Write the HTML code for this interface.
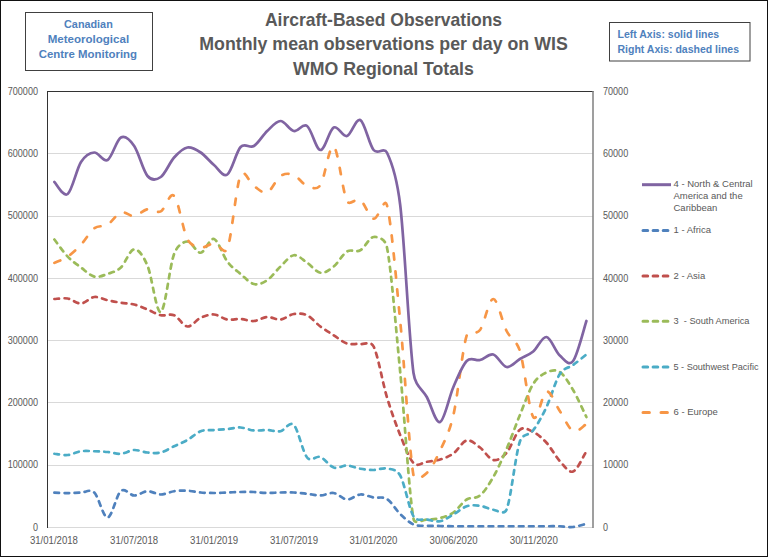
<!DOCTYPE html>
<html><head><meta charset="utf-8"><style>
html,body{margin:0;padding:0;background:#fff;}
body{width:768px;height:557px;overflow:hidden;position:relative;}
svg{position:absolute;left:0;top:0;}
.ax{font-family:"Liberation Sans",sans-serif;font-size:10px;fill:#595959;}
.lg{font-family:"Liberation Sans",sans-serif;font-size:9.5px;fill:#595959;}
.tt{font-family:"Liberation Sans",sans-serif;font-weight:bold;font-size:17.7px;fill:#595959;}
.bx{font-family:"Liberation Sans",sans-serif;font-weight:bold;font-size:10.5px;fill:#4f81bd;}
.bx2{font-family:"Liberation Sans",sans-serif;font-weight:bold;font-size:11px;fill:#4f81bd;}
</style></head><body>
<svg width="768" height="557" viewBox="0 0 768 557">
<rect x="0.5" y="0.5" width="767" height="556" fill="#fff" stroke="#111" stroke-width="1"/>
<line x1="48" y1="153.5" x2="593" y2="153.5" stroke="#d9d9d9" stroke-width="1"/><line x1="48" y1="216.5" x2="593" y2="216.5" stroke="#d9d9d9" stroke-width="1"/><line x1="48" y1="278.5" x2="593" y2="278.5" stroke="#d9d9d9" stroke-width="1"/><line x1="48" y1="340.5" x2="593" y2="340.5" stroke="#d9d9d9" stroke-width="1"/><line x1="48" y1="402.5" x2="593" y2="402.5" stroke="#d9d9d9" stroke-width="1"/><line x1="48" y1="465.5" x2="593" y2="465.5" stroke="#d9d9d9" stroke-width="1"/>
<line x1="48" y1="527.5" x2="593" y2="527.5" stroke="#d9d9d9" stroke-width="1"/>
<line x1="47.5" y1="91" x2="47.5" y2="528" stroke="#333" stroke-width="1"/>
<line x1="47" y1="91.5" x2="593.5" y2="91.5" stroke="#333" stroke-width="1"/>
<line x1="593" y1="91" x2="593" y2="528" stroke="#7f7f7f" stroke-width="1.5"/>
<path d="M54.40 492.60 C56.62 492.68 63.27 493.10 67.70 493.10 C72.13 493.10 76.57 492.68 81.00 492.60 C85.43 492.52 89.87 488.45 94.30 492.60 C98.73 496.75 103.17 517.77 107.60 517.50 C112.03 517.23 116.47 494.67 120.90 491.00 C125.33 487.33 129.77 495.46 134.20 495.50 C138.63 495.54 143.07 491.42 147.50 491.25 C151.93 491.08 156.37 494.50 160.80 494.50 C165.23 494.50 169.67 491.88 174.10 491.25 C178.53 490.62 182.97 490.54 187.40 490.75 C191.83 490.96 196.27 492.12 200.70 492.50 C205.13 492.88 209.57 493.00 214.00 493.00 C218.43 493.00 222.87 492.67 227.30 492.50 C231.73 492.33 236.17 492.08 240.60 492.00 C245.03 491.92 249.47 491.83 253.90 492.00 C258.33 492.17 262.77 492.92 267.20 493.00 C271.63 493.08 276.07 492.58 280.50 492.50 C284.93 492.42 289.37 492.29 293.80 492.50 C298.23 492.71 302.67 493.25 307.10 493.75 C311.53 494.25 315.97 495.62 320.40 495.50 C324.83 495.38 329.27 492.33 333.70 493.00 C338.13 493.67 342.57 499.25 347.00 499.50 C351.43 499.75 355.87 494.83 360.30 494.50 C364.73 494.17 369.17 496.75 373.60 497.50 C378.03 498.25 382.47 496.25 386.90 499.00 C391.33 501.75 395.77 509.75 400.20 514.00 C404.63 518.25 409.07 522.54 413.50 524.50 C417.93 526.46 422.37 525.50 426.80 525.75 C431.23 526.00 435.67 525.92 440.10 526.00 C444.53 526.08 448.97 526.21 453.40 526.25 C457.83 526.29 462.27 526.25 466.70 526.25 C471.13 526.25 475.57 526.25 480.00 526.25 C484.43 526.25 488.87 526.25 493.30 526.25 C497.73 526.25 502.17 526.25 506.60 526.25 C511.03 526.25 515.47 526.25 519.90 526.25 C524.33 526.25 528.77 526.25 533.20 526.25 C537.63 526.25 542.07 526.25 546.50 526.25 C550.93 526.25 555.37 526.12 559.80 526.25 C564.23 526.38 568.67 527.42 573.10 527.00 C577.53 526.58 584.18 524.29 586.40 523.75" fill="none" stroke="#4f81bd" stroke-width="2.7" stroke-dasharray="4.7 5.4" stroke-linecap="round" stroke-linejoin="round"/>
<path d="M54.40 299.00 C56.62 298.92 63.27 297.75 67.70 298.50 C72.13 299.25 76.57 303.75 81.00 303.50 C85.43 303.25 89.87 297.54 94.30 297.00 C98.73 296.46 103.17 299.29 107.60 300.25 C112.03 301.21 116.47 302.04 120.90 302.75 C125.33 303.46 129.77 303.38 134.20 304.50 C138.63 305.62 143.07 307.71 147.50 309.50 C151.93 311.29 156.37 314.29 160.80 315.25 C165.23 316.21 169.67 313.38 174.10 315.25 C178.53 317.12 182.97 326.08 187.40 326.50 C191.83 326.92 196.27 319.75 200.70 317.75 C205.13 315.75 209.57 314.21 214.00 314.50 C218.43 314.79 222.87 318.75 227.30 319.50 C231.73 320.25 236.17 318.75 240.60 319.00 C245.03 319.25 249.47 321.33 253.90 321.00 C258.33 320.67 262.77 317.25 267.20 317.00 C271.63 316.75 276.07 320.00 280.50 319.50 C284.93 319.00 289.37 314.71 293.80 314.00 C298.23 313.29 302.67 313.17 307.10 315.25 C311.53 317.33 315.97 323.17 320.40 326.50 C324.83 329.83 329.27 332.42 333.70 335.25 C338.13 338.08 342.57 342.04 347.00 343.50 C351.43 344.96 355.87 343.50 360.30 344.00 C364.73 344.50 370.56 340.45 373.60 346.50 C378.03 355.33 382.47 382.25 386.90 397.00 C391.33 411.75 395.77 424.00 400.20 435.00 C404.63 446.00 409.07 458.54 413.50 463.00 C417.93 467.46 422.37 462.33 426.80 461.75 C431.23 461.17 435.67 460.88 440.10 459.50 C444.53 458.12 448.97 456.67 453.40 453.50 C457.83 450.33 462.27 441.50 466.70 440.50 C471.13 439.50 475.57 444.25 480.00 447.50 C484.43 450.75 488.87 459.12 493.30 460.00 C497.73 460.88 502.17 457.79 506.60 452.75 C511.03 447.71 515.47 433.21 519.90 429.75 C524.33 426.29 528.77 429.83 533.20 432.00 C537.63 434.17 542.07 437.92 546.50 442.75 C550.93 447.58 555.37 456.21 559.80 461.00 C564.23 465.79 568.67 473.12 573.10 471.50 C577.53 469.88 584.18 454.62 586.40 451.25" fill="none" stroke="#c0504d" stroke-width="2.7" stroke-dasharray="4.7 5.4" stroke-linecap="round" stroke-linejoin="round"/>
<path d="M54.40 239.50 C56.62 242.35 63.27 251.93 67.70 256.60 C72.13 261.27 76.57 264.17 81.00 267.50 C85.43 270.83 89.87 275.53 94.30 276.60 C98.73 277.67 103.17 275.42 107.60 273.90 C112.03 272.38 116.47 271.60 120.90 267.50 C125.33 263.40 129.77 249.60 134.20 249.30 C138.63 249.00 143.38 255.98 147.50 265.70 C151.93 276.15 156.37 313.95 160.80 312.00 C165.23 310.05 169.67 265.75 174.10 254.00 C177.32 245.46 182.97 241.71 187.40 241.50 C191.83 241.29 196.27 253.17 200.70 252.75 C205.13 252.33 209.57 237.54 214.00 239.00 C218.43 240.46 222.87 255.67 227.30 261.50 C231.73 267.33 236.17 270.25 240.60 274.00 C245.03 277.75 249.47 282.96 253.90 284.00 C258.33 285.04 262.77 283.17 267.20 280.25 C271.63 277.33 276.07 270.67 280.50 266.50 C284.93 262.33 289.37 255.88 293.80 255.25 C298.23 254.62 302.67 259.83 307.10 262.75 C311.53 265.67 315.97 272.12 320.40 272.75 C324.83 273.38 329.27 270.04 333.70 266.50 C338.13 262.96 342.57 254.21 347.00 251.50 C351.43 248.79 355.87 252.67 360.30 250.25 C364.73 247.83 369.17 237.54 373.60 237.00 C378.03 236.46 385.29 238.84 386.90 247.00 C391.33 269.50 395.77 326.71 400.20 372.00 C404.63 417.29 409.07 494.17 413.50 518.75 C414.68 525.30 422.37 519.62 426.80 519.50 C431.23 519.38 435.67 519.17 440.10 518.00 C444.53 516.83 448.97 515.58 453.40 512.50 C457.83 509.42 462.27 502.33 466.70 499.50 C471.13 496.67 475.57 499.25 480.00 495.50 C484.43 491.75 488.87 484.75 493.30 477.00 C497.73 469.25 502.17 459.33 506.60 449.00 C511.03 438.67 515.47 425.83 519.90 415.00 C524.33 404.17 528.77 391.08 533.20 384.00 C537.63 376.92 542.07 374.50 546.50 372.50 C550.93 370.50 555.37 369.08 559.80 372.00 C564.23 374.92 568.67 382.50 573.10 390.00 C577.53 397.50 584.18 412.50 586.40 417.00" fill="none" stroke="#9bbb59" stroke-width="2.7" stroke-dasharray="4.7 5.4" stroke-linecap="round" stroke-linejoin="round"/>
<path d="M54.40 453.75 C56.62 453.96 63.27 455.42 67.70 455.00 C72.13 454.58 76.57 451.88 81.00 451.25 C85.43 450.62 89.87 451.12 94.30 451.25 C98.73 451.38 103.17 451.58 107.60 452.00 C112.03 452.42 116.47 454.08 120.90 453.75 C125.33 453.42 129.77 450.21 134.20 450.00 C138.63 449.79 143.07 452.08 147.50 452.50 C151.93 452.92 156.37 453.54 160.80 452.50 C165.23 451.46 169.67 448.33 174.10 446.25 C178.53 444.17 182.97 442.50 187.40 440.00 C191.83 437.50 196.27 432.92 200.70 431.25 C205.13 429.58 209.57 430.38 214.00 430.00 C218.43 429.62 222.87 429.42 227.30 429.00 C231.73 428.58 236.17 427.25 240.60 427.50 C245.03 427.75 249.47 430.08 253.90 430.50 C258.33 430.92 262.77 429.88 267.20 430.00 C271.63 430.12 276.07 432.08 280.50 431.25 C284.93 430.42 289.37 420.62 293.80 425.00 C298.23 429.38 302.67 452.17 307.10 457.50 C311.35 462.62 315.97 455.33 320.40 457.00 C324.83 458.67 329.27 466.08 333.70 467.50 C338.13 468.92 342.57 465.29 347.00 465.50 C351.43 465.71 355.87 468.00 360.30 468.75 C364.73 469.50 369.17 470.04 373.60 470.00 C378.03 469.96 382.47 467.58 386.90 468.50 C391.33 469.42 396.54 468.94 400.20 475.50 C404.63 483.46 409.07 508.92 413.50 516.25 C417.04 522.11 422.37 518.67 426.80 519.50 C431.23 520.33 435.67 522.08 440.10 521.25 C444.53 520.42 448.97 517.00 453.40 514.50 C457.83 512.00 462.27 507.71 466.70 506.25 C471.13 504.79 475.57 505.17 480.00 505.75 C484.43 506.33 488.87 509.12 493.30 509.75 C497.73 510.38 504.18 515.70 506.60 509.50 C511.03 498.12 515.47 454.71 519.90 441.50 C522.67 433.24 528.77 436.00 533.20 430.25 C537.63 424.50 542.07 416.38 546.50 407.00 C550.93 397.62 555.37 381.00 559.80 374.00 C564.10 367.22 568.67 368.25 573.10 365.00 C577.53 361.75 584.18 356.25 586.40 354.50" fill="none" stroke="#4bacc6" stroke-width="2.7" stroke-dasharray="4.7 5.4" stroke-linecap="round" stroke-linejoin="round"/>
<path d="M54.40 262.90 C56.62 261.85 63.27 259.63 67.70 256.60 C72.13 253.57 76.57 249.42 81.00 244.70 C85.43 239.98 89.87 231.63 94.30 228.30 C98.73 224.97 103.17 227.35 107.60 224.70 C112.03 222.05 116.47 213.83 120.90 212.40 C125.33 210.97 129.77 216.63 134.20 216.10 C138.63 215.57 143.07 209.98 147.50 209.20 C151.93 208.42 156.37 213.60 160.80 211.40 C165.23 209.20 169.67 191.40 174.10 196.00 C178.53 200.60 182.97 230.42 187.40 239.00 C191.02 246.01 196.27 246.75 200.70 247.50 C205.13 248.25 209.57 243.25 214.00 243.50 C218.43 243.75 224.70 255.71 227.30 249.00 C231.73 237.58 236.17 185.50 240.60 175.00 C243.96 167.05 249.47 183.08 253.90 186.00 C258.33 188.92 262.77 194.17 267.20 192.50 C271.63 190.83 276.07 178.92 280.50 176.00 C284.93 173.08 289.37 173.33 293.80 175.00 C298.23 176.67 302.67 184.33 307.10 186.00 C311.53 187.67 316.68 190.53 320.40 185.00 C324.83 178.42 329.27 143.83 333.70 146.50 C338.13 149.17 342.57 192.08 347.00 201.00 C349.97 206.97 355.87 197.04 360.30 200.00 C364.73 202.96 369.17 217.92 373.60 218.75 C378.03 219.58 384.49 195.74 386.90 205.00 C391.33 222.04 395.77 275.92 400.20 321.00 C404.63 366.08 409.07 450.17 413.50 475.50 C414.67 482.17 422.37 477.17 426.80 473.00 C431.23 468.83 435.67 460.17 440.10 450.50 C444.53 440.83 449.13 433.47 453.40 415.00 C457.83 395.83 462.27 349.67 466.70 335.50 C468.85 328.63 475.76 335.82 480.00 330.00 C484.43 323.92 488.87 298.83 493.30 299.00 C497.73 299.17 502.17 322.33 506.60 331.00 C511.03 339.67 516.35 339.53 519.90 351.00 C524.33 365.33 528.77 410.25 533.20 417.00 C537.63 423.75 542.07 392.50 546.50 391.50 C550.93 390.50 555.37 404.42 559.80 411.00 C564.23 417.58 568.67 428.83 573.10 431.00 C577.53 433.17 584.18 425.17 586.40 424.00" fill="none" stroke="#f79646" stroke-width="2.7" stroke-dasharray="6.4 11.6" stroke-linecap="round" stroke-linejoin="round"/>
<path d="M54.40 182.00 C56.62 184.00 63.27 197.33 67.70 194.00 C72.13 190.67 76.57 168.92 81.00 162.00 C85.41 155.12 89.87 152.83 94.30 152.50 C98.73 152.17 103.17 162.50 107.60 160.00 C112.03 157.50 116.47 139.83 120.90 137.50 C125.33 135.17 129.77 139.58 134.20 146.00 C138.63 152.42 143.07 170.83 147.50 176.00 C151.84 181.06 156.37 180.08 160.80 177.00 C165.23 173.92 169.67 162.42 174.10 157.50 C178.53 152.58 182.97 148.33 187.40 147.50 C191.83 146.67 196.27 149.58 200.70 152.50 C205.13 155.42 209.57 161.33 214.00 165.00 C218.43 168.67 222.87 177.50 227.30 174.50 C231.73 171.50 236.17 151.75 240.60 147.00 C245.03 142.25 249.47 148.67 253.90 146.00 C258.33 143.33 262.77 135.17 267.20 131.00 C271.63 126.83 276.07 121.00 280.50 121.00 C284.93 121.00 289.37 130.17 293.80 131.00 C298.23 131.83 302.67 122.83 307.10 126.00 C311.53 129.17 315.97 149.75 320.40 150.00 C324.83 150.25 329.27 129.83 333.70 127.50 C338.13 125.17 342.57 137.25 347.00 136.00 C351.43 134.75 355.87 117.67 360.30 120.00 C364.73 122.33 369.17 144.58 373.60 150.00 C377.89 155.24 383.95 146.41 386.90 152.50 C391.33 161.67 396.96 178.12 400.20 205.00 C404.63 241.75 409.07 341.00 413.50 373.00 C415.38 386.59 422.37 388.83 426.80 397.00 C431.23 405.17 435.67 423.67 440.10 422.00 C444.53 420.33 448.97 397.17 453.40 387.00 C457.83 376.83 462.27 365.50 466.70 361.00 C471.13 356.50 475.57 361.08 480.00 360.00 C484.43 358.92 488.87 353.33 493.30 354.50 C497.73 355.67 502.17 366.25 506.60 367.00 C511.03 367.75 515.47 361.58 519.90 359.00 C524.33 356.42 528.77 355.17 533.20 351.50 C537.63 347.83 542.07 336.33 546.50 337.00 C550.93 337.67 555.37 351.50 559.80 355.50 C564.23 359.50 568.71 366.70 573.10 361.00 C577.53 355.25 584.18 327.67 586.40 321.00" fill="none" stroke="#8064a2" stroke-width="2.7" stroke-linecap="round" stroke-linejoin="round"/>

<text x="38" y="94.7" text-anchor="end" class="ax" textLength="30.3" lengthAdjust="spacingAndGlyphs">700000</text><text x="603" y="94.7" text-anchor="start" class="ax" textLength="25.2" lengthAdjust="spacingAndGlyphs">70000</text><text x="38" y="157.0" text-anchor="end" class="ax" textLength="30.3" lengthAdjust="spacingAndGlyphs">600000</text><text x="603" y="157.0" text-anchor="start" class="ax" textLength="25.2" lengthAdjust="spacingAndGlyphs">60000</text><text x="38" y="219.3" text-anchor="end" class="ax" textLength="30.3" lengthAdjust="spacingAndGlyphs">500000</text><text x="603" y="219.3" text-anchor="start" class="ax" textLength="25.2" lengthAdjust="spacingAndGlyphs">50000</text><text x="38" y="281.6" text-anchor="end" class="ax" textLength="30.3" lengthAdjust="spacingAndGlyphs">400000</text><text x="603" y="281.6" text-anchor="start" class="ax" textLength="25.2" lengthAdjust="spacingAndGlyphs">40000</text><text x="38" y="343.8" text-anchor="end" class="ax" textLength="30.3" lengthAdjust="spacingAndGlyphs">300000</text><text x="603" y="343.8" text-anchor="start" class="ax" textLength="25.2" lengthAdjust="spacingAndGlyphs">30000</text><text x="38" y="406.1" text-anchor="end" class="ax" textLength="30.3" lengthAdjust="spacingAndGlyphs">200000</text><text x="603" y="406.1" text-anchor="start" class="ax" textLength="25.2" lengthAdjust="spacingAndGlyphs">20000</text><text x="38" y="468.4" text-anchor="end" class="ax" textLength="30.3" lengthAdjust="spacingAndGlyphs">100000</text><text x="603" y="468.4" text-anchor="start" class="ax" textLength="25.2" lengthAdjust="spacingAndGlyphs">10000</text><text x="38" y="530.7" text-anchor="end" class="ax" textLength="5.0" lengthAdjust="spacingAndGlyphs">0</text><text x="603" y="530.7" text-anchor="start" class="ax" textLength="5.0" lengthAdjust="spacingAndGlyphs">0</text><text x="53.9" y="544" text-anchor="middle" class="ax" textLength="48" lengthAdjust="spacingAndGlyphs">31/01/2018</text><text x="134.1" y="544" text-anchor="middle" class="ax" textLength="48" lengthAdjust="spacingAndGlyphs">31/07/2018</text><text x="214.1" y="544" text-anchor="middle" class="ax" textLength="48" lengthAdjust="spacingAndGlyphs">31/01/2019</text><text x="294.0" y="544" text-anchor="middle" class="ax" textLength="48" lengthAdjust="spacingAndGlyphs">31/07/2019</text><text x="373.4" y="544" text-anchor="middle" class="ax" textLength="48" lengthAdjust="spacingAndGlyphs">31/01/2020</text><text x="453.6" y="544" text-anchor="middle" class="ax" textLength="48" lengthAdjust="spacingAndGlyphs">30/06/2020</text><text x="533.8" y="544" text-anchor="middle" class="ax" textLength="48" lengthAdjust="spacingAndGlyphs">30/11/2020</text>
<line x1="642" y1="184.7" x2="671" y2="184.7" stroke="#8064a2" stroke-width="3"/><text x="673.5" y="187.2" class="lg">4 - North &amp; Central</text><text x="673.5" y="199.3" class="lg">America and the</text><text x="673.5" y="211.4" class="lg">Caribbean</text><line x1="643" y1="230.4" x2="669" y2="230.4" stroke="#4f81bd" stroke-width="3" stroke-dasharray="4.7 5.4" stroke-linecap="round"/><text x="673.5" y="232.9" class="lg">1 - Africa</text><line x1="643" y1="276.0" x2="669" y2="276.0" stroke="#c0504d" stroke-width="3" stroke-dasharray="4.7 5.4" stroke-linecap="round"/><text x="673.5" y="278.5" class="lg">2 - Asia</text><line x1="643" y1="321.3" x2="669" y2="321.3" stroke="#9bbb59" stroke-width="3" stroke-dasharray="4.7 5.4" stroke-linecap="round"/><text x="673.5" y="323.8" class="lg" textLength="76" lengthAdjust="spacingAndGlyphs">3&#160; - South America</text><line x1="643" y1="367.0" x2="669" y2="367.0" stroke="#4bacc6" stroke-width="3" stroke-dasharray="4.7 5.4" stroke-linecap="round"/><text x="673.5" y="369.5" class="lg" textLength="85" lengthAdjust="spacingAndGlyphs">5 - Southwest Pacific</text><line x1="643" y1="412.6" x2="669" y2="412.6" stroke="#f79646" stroke-width="3" stroke-dasharray="6.4 11.6" stroke-linecap="round"/><text x="673.5" y="415.1" class="lg">6 - Europe</text>
<rect x="25.5" y="12.5" width="127" height="58" fill="none" stroke="#404040" stroke-width="1"/>
<text x="88.4" y="27.8" text-anchor="middle" class="bx2" textLength="48.7" lengthAdjust="spacingAndGlyphs">Canadian</text>
<text x="88.4" y="42.9" text-anchor="middle" class="bx2" textLength="81.5" lengthAdjust="spacingAndGlyphs">Meteorological</text>
<text x="87.9" y="57.9" text-anchor="middle" class="bx2" textLength="98.3" lengthAdjust="spacingAndGlyphs">Centre Monitoring</text>
<rect x="609.5" y="22.5" width="140.5" height="38.5" fill="none" stroke="#404040" stroke-width="1"/>
<text x="617.5" y="38" class="bx">Left Axis: solid lines</text>
<text x="617.5" y="52.9" class="bx">Right Axis: dashed lines</text>
<text x="383.5" y="26" text-anchor="middle" class="tt" textLength="237.2" lengthAdjust="spacingAndGlyphs">Aircraft-Based Observations</text>
<text x="383.5" y="50.3" text-anchor="middle" class="tt" textLength="368.5" lengthAdjust="spacingAndGlyphs">Monthly mean observations per day on WIS</text>
<text x="383.5" y="74.7" text-anchor="middle" class="tt" textLength="180.8" lengthAdjust="spacingAndGlyphs">WMO Regional Totals</text>
</svg>
</body></html>
